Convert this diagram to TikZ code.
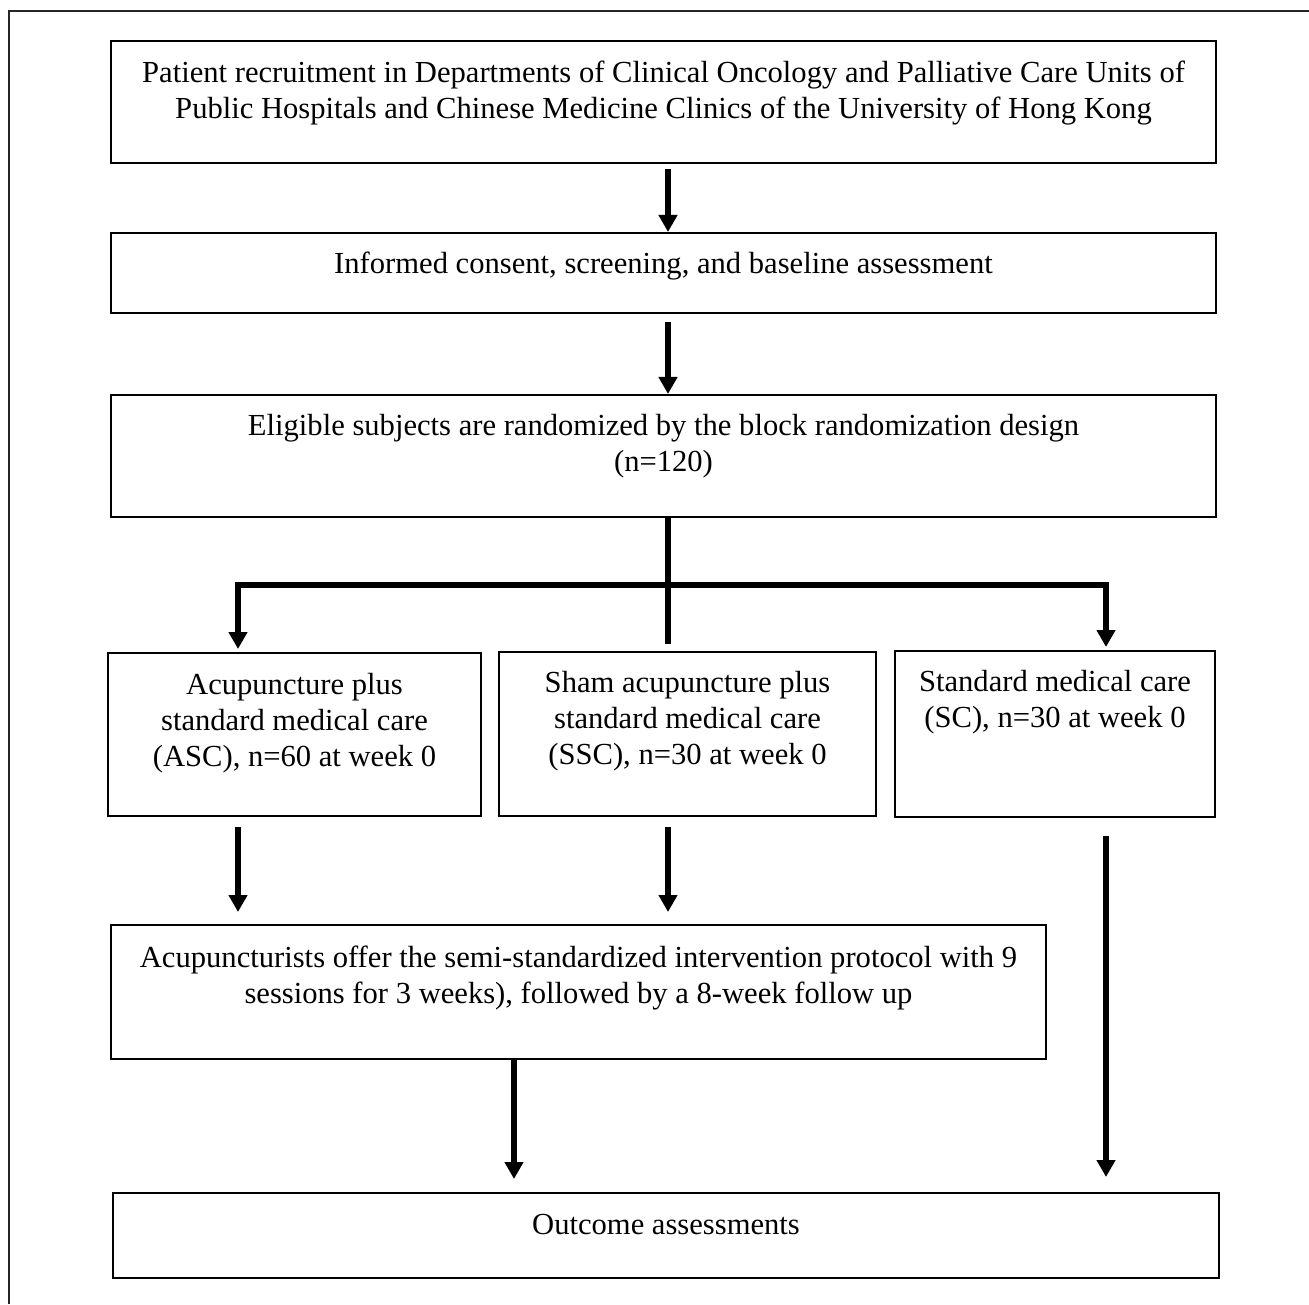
\documentclass[tikz,border=0pt]{standalone}
\usepackage{fontspec}
\setmainfont{Liberation Serif}
\usetikzlibrary{arrows.meta}

\begin{document}
\begin{tikzpicture}[x = 0.5pt, y = -0.5pt,
	box/.style = {draw, line width = 1pt, align = center, inner sep = 0pt, font = \fontsize{15.3}{18}\selectfont},
	tip/.tip = {Triangle[width = 9pt, length = 8.5pt]},
	flow/.style = {line width = 3pt, -tip},
	trunk/.style = {line width = 3pt}]
	\useasboundingbox (0, 0) rectangle (1309, 1304);
	\draw [line width = 1pt, black!85] (9, 1304) |- (1309, 11);
	\coordinate (colA) at (238, 0);
	\coordinate (colB) at (668, 0);
	\coordinate (colC) at (1106, 0);
	\coordinate (colD) at (514, 0);
	\coordinate (split) at (668, 585);
	\node [box, minimum width = 552.5pt, minimum height = 61pt, text depth = 12pt] (recruit) at (663.5, 102)
		{Patient recruitment in Departments of Clinical Oncology and Palliative Care Units of\\Public Hospitals and Chinese Medicine Clinics of the University of Hong Kong};
	\node [box, minimum width = 552.5pt, minimum height = 40pt, text depth = 10.5pt] (consent) at (663.5, 273)
		{Informed consent, screening, and baseline assessment};
	\node [box, minimum width = 552.5pt, minimum height = 61pt, text depth = 13pt] (random) at (663.5, 456)
		{Eligible subjects are randomized by the block randomization design\\(n=120)};
	\node [box, minimum width = 186.5pt, minimum height = 81.5pt, text depth = 15pt] (asc) at (294.5, 734.5)
		{Acupuncture plus\\standard medical care\\(ASC), n=60 at week 0};
	\node [box, minimum width = 188.5pt, minimum height = 82pt, text depth = 16.5pt] (ssc) at (687.5, 734)
		{Sham acupuncture plus\\standard medical care\\(SSC), n=30 at week 0};
	\node [box, minimum width = 160pt, minimum height = 83pt, text depth = 35.5pt] (sc) at (1055, 734)
		{Standard medical care\\(SC), n=30 at week 0};
	\node [box, minimum width = 467.5pt, minimum height = 67pt, text depth = 17pt] (protocol) at (578.5, 992)
		{Acupuncturists offer the semi-standardized intervention protocol with 9\\sessions for 3 weeks), followed by a 8-week follow up};
	\node [box, minimum width = 553pt, minimum height = 42.5pt, text depth = 11pt] (outcome) at (666, 1235.5)
		{Outcome assessments};
	\draw [flow, shorten <= 2.5pt] (recruit.south -| colB) -- (consent.north -| colB);
	\draw [flow, shorten <= 4pt] (consent.south -| colB) -- (random.north -| colB);
	\draw [trunk, shorten >= 3.5pt] (random.south -| colB) -- (ssc.north -| colB);
	\draw [flow, tip-tip, shorten <= 1.5pt, shorten >= 1.5pt] (asc.north -| colA) |- (split) -| (sc.north -| colC);
	\draw [flow, shorten <= 5pt, shorten >= 6pt] (asc.south -| colA) -- (protocol.north -| colA);
	\draw [flow, shorten <= 5pt, shorten >= 6pt] (ssc.south -| colB) -- (protocol.north -| colB);
	\draw [flow, shorten <= 9pt, shorten >= 7.5pt] (sc.south -| colC) -- (outcome.north -| colC);
	\draw [flow, shorten >= 6.5pt] (protocol.south -| colD) -- (outcome.north -| colD);
\end{tikzpicture}
\end{document}
